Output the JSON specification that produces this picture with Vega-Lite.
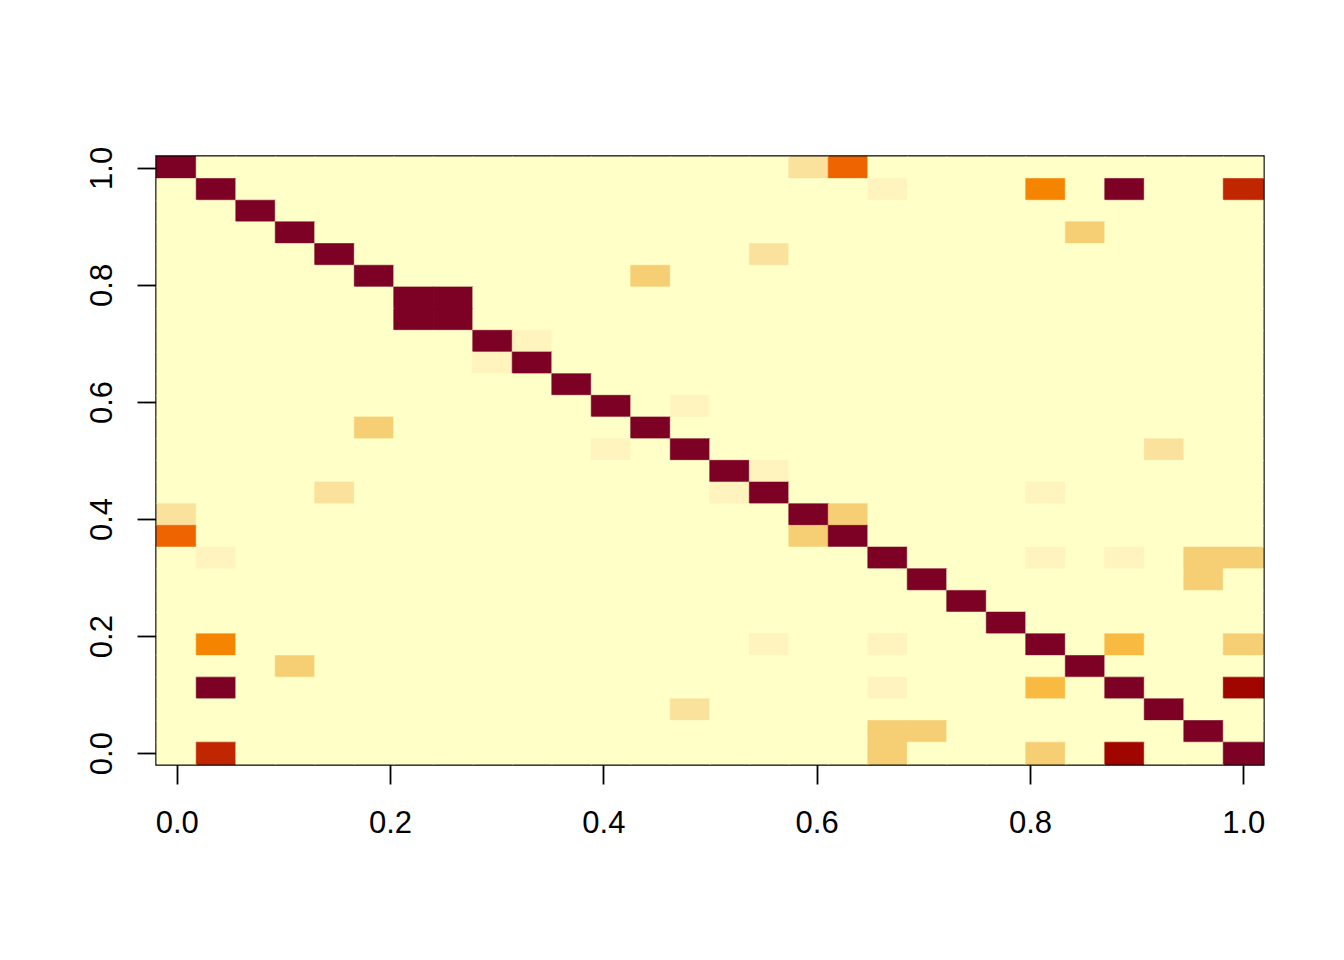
{
"$schema": "https://vega.github.io/schema/vega-lite/v6.json",
"width": 1106, "height": 607,
"autosize": "none",
"padding": {"left": 157, "top": 157, "right": 81, "bottom": 196},
"background": "white",
"config": {"view": {"stroke": "#000", "strokeWidth": 3.4}, "font": "Liberation Sans"},
"data": {"values": [
{"x":0,"y":1,"z":11},{"x":0.037,"y":1,"z":0},{"x":0.0741,"y":1,"z":0},{"x":0.1111,"y":1,"z":0},{"x":0.1481,"y":1,"z":0},{"x":0.1852,"y":1,"z":0},{"x":0.2222,"y":1,"z":0},{"x":0.2593,"y":1,"z":0},{"x":0.2963,"y":1,"z":0},{"x":0.3333,"y":1,"z":0},{"x":0.3704,"y":1,"z":0},{"x":0.4074,"y":1,"z":0},{"x":0.4444,"y":1,"z":0},{"x":0.4815,"y":1,"z":0},{"x":0.5185,"y":1,"z":0},{"x":0.5556,"y":1,"z":0},{"x":0.5926,"y":1,"z":2},{"x":0.6296,"y":1,"z":7},{"x":0.6667,"y":1,"z":0},{"x":0.7037,"y":1,"z":0},{"x":0.7407,"y":1,"z":0},{"x":0.7778,"y":1,"z":0},{"x":0.8148,"y":1,"z":0},{"x":0.8519,"y":1,"z":0},{"x":0.8889,"y":1,"z":0},{"x":0.9259,"y":1,"z":0},{"x":0.963,"y":1,"z":0},{"x":1,"y":1,"z":0},
{"x":0,"y":0.963,"z":0},{"x":0.037,"y":0.963,"z":11},{"x":0.0741,"y":0.963,"z":0},{"x":0.1111,"y":0.963,"z":0},{"x":0.1481,"y":0.963,"z":0},{"x":0.1852,"y":0.963,"z":0},{"x":0.2222,"y":0.963,"z":0},{"x":0.2593,"y":0.963,"z":0},{"x":0.2963,"y":0.963,"z":0},{"x":0.3333,"y":0.963,"z":0},{"x":0.3704,"y":0.963,"z":0},{"x":0.4074,"y":0.963,"z":0},{"x":0.4444,"y":0.963,"z":0},{"x":0.4815,"y":0.963,"z":0},{"x":0.5185,"y":0.963,"z":0},{"x":0.5556,"y":0.963,"z":0},{"x":0.5926,"y":0.963,"z":0},{"x":0.6296,"y":0.963,"z":0},{"x":0.6667,"y":0.963,"z":1},{"x":0.7037,"y":0.963,"z":0},{"x":0.7407,"y":0.963,"z":0},{"x":0.7778,"y":0.963,"z":0},{"x":0.8148,"y":0.963,"z":6},{"x":0.8519,"y":0.963,"z":0},{"x":0.8889,"y":0.963,"z":11},{"x":0.9259,"y":0.963,"z":0},{"x":0.963,"y":0.963,"z":0},{"x":1,"y":0.963,"z":9},
{"x":0,"y":0.9259,"z":0},{"x":0.037,"y":0.9259,"z":0},{"x":0.0741,"y":0.9259,"z":11},{"x":0.1111,"y":0.9259,"z":0},{"x":0.1481,"y":0.9259,"z":0},{"x":0.1852,"y":0.9259,"z":0},{"x":0.2222,"y":0.9259,"z":0},{"x":0.2593,"y":0.9259,"z":0},{"x":0.2963,"y":0.9259,"z":0},{"x":0.3333,"y":0.9259,"z":0},{"x":0.3704,"y":0.9259,"z":0},{"x":0.4074,"y":0.9259,"z":0},{"x":0.4444,"y":0.9259,"z":0},{"x":0.4815,"y":0.9259,"z":0},{"x":0.5185,"y":0.9259,"z":0},{"x":0.5556,"y":0.9259,"z":0},{"x":0.5926,"y":0.9259,"z":0},{"x":0.6296,"y":0.9259,"z":0},{"x":0.6667,"y":0.9259,"z":0},{"x":0.7037,"y":0.9259,"z":0},{"x":0.7407,"y":0.9259,"z":0},{"x":0.7778,"y":0.9259,"z":0},{"x":0.8148,"y":0.9259,"z":0},{"x":0.8519,"y":0.9259,"z":0},{"x":0.8889,"y":0.9259,"z":0},{"x":0.9259,"y":0.9259,"z":0},{"x":0.963,"y":0.9259,"z":0},{"x":1,"y":0.9259,"z":0},
{"x":0,"y":0.8889,"z":0},{"x":0.037,"y":0.8889,"z":0},{"x":0.0741,"y":0.8889,"z":0},{"x":0.1111,"y":0.8889,"z":11},{"x":0.1481,"y":0.8889,"z":0},{"x":0.1852,"y":0.8889,"z":0},{"x":0.2222,"y":0.8889,"z":0},{"x":0.2593,"y":0.8889,"z":0},{"x":0.2963,"y":0.8889,"z":0},{"x":0.3333,"y":0.8889,"z":0},{"x":0.3704,"y":0.8889,"z":0},{"x":0.4074,"y":0.8889,"z":0},{"x":0.4444,"y":0.8889,"z":0},{"x":0.4815,"y":0.8889,"z":0},{"x":0.5185,"y":0.8889,"z":0},{"x":0.5556,"y":0.8889,"z":0},{"x":0.5926,"y":0.8889,"z":0},{"x":0.6296,"y":0.8889,"z":0},{"x":0.6667,"y":0.8889,"z":0},{"x":0.7037,"y":0.8889,"z":0},{"x":0.7407,"y":0.8889,"z":0},{"x":0.7778,"y":0.8889,"z":0},{"x":0.8148,"y":0.8889,"z":0},{"x":0.8519,"y":0.8889,"z":3},{"x":0.8889,"y":0.8889,"z":0},{"x":0.9259,"y":0.8889,"z":0},{"x":0.963,"y":0.8889,"z":0},{"x":1,"y":0.8889,"z":0},
{"x":0,"y":0.8519,"z":0},{"x":0.037,"y":0.8519,"z":0},{"x":0.0741,"y":0.8519,"z":0},{"x":0.1111,"y":0.8519,"z":0},{"x":0.1481,"y":0.8519,"z":11},{"x":0.1852,"y":0.8519,"z":0},{"x":0.2222,"y":0.8519,"z":0},{"x":0.2593,"y":0.8519,"z":0},{"x":0.2963,"y":0.8519,"z":0},{"x":0.3333,"y":0.8519,"z":0},{"x":0.3704,"y":0.8519,"z":0},{"x":0.4074,"y":0.8519,"z":0},{"x":0.4444,"y":0.8519,"z":0},{"x":0.4815,"y":0.8519,"z":0},{"x":0.5185,"y":0.8519,"z":0},{"x":0.5556,"y":0.8519,"z":2},{"x":0.5926,"y":0.8519,"z":0},{"x":0.6296,"y":0.8519,"z":0},{"x":0.6667,"y":0.8519,"z":0},{"x":0.7037,"y":0.8519,"z":0},{"x":0.7407,"y":0.8519,"z":0},{"x":0.7778,"y":0.8519,"z":0},{"x":0.8148,"y":0.8519,"z":0},{"x":0.8519,"y":0.8519,"z":0},{"x":0.8889,"y":0.8519,"z":0},{"x":0.9259,"y":0.8519,"z":0},{"x":0.963,"y":0.8519,"z":0},{"x":1,"y":0.8519,"z":0},
{"x":0,"y":0.8148,"z":0},{"x":0.037,"y":0.8148,"z":0},{"x":0.0741,"y":0.8148,"z":0},{"x":0.1111,"y":0.8148,"z":0},{"x":0.1481,"y":0.8148,"z":0},{"x":0.1852,"y":0.8148,"z":11},{"x":0.2222,"y":0.8148,"z":0},{"x":0.2593,"y":0.8148,"z":0},{"x":0.2963,"y":0.8148,"z":0},{"x":0.3333,"y":0.8148,"z":0},{"x":0.3704,"y":0.8148,"z":0},{"x":0.4074,"y":0.8148,"z":0},{"x":0.4444,"y":0.8148,"z":3},{"x":0.4815,"y":0.8148,"z":0},{"x":0.5185,"y":0.8148,"z":0},{"x":0.5556,"y":0.8148,"z":0},{"x":0.5926,"y":0.8148,"z":0},{"x":0.6296,"y":0.8148,"z":0},{"x":0.6667,"y":0.8148,"z":0},{"x":0.7037,"y":0.8148,"z":0},{"x":0.7407,"y":0.8148,"z":0},{"x":0.7778,"y":0.8148,"z":0},{"x":0.8148,"y":0.8148,"z":0},{"x":0.8519,"y":0.8148,"z":0},{"x":0.8889,"y":0.8148,"z":0},{"x":0.9259,"y":0.8148,"z":0},{"x":0.963,"y":0.8148,"z":0},{"x":1,"y":0.8148,"z":0},
{"x":0,"y":0.7778,"z":0},{"x":0.037,"y":0.7778,"z":0},{"x":0.0741,"y":0.7778,"z":0},{"x":0.1111,"y":0.7778,"z":0},{"x":0.1481,"y":0.7778,"z":0},{"x":0.1852,"y":0.7778,"z":0},{"x":0.2222,"y":0.7778,"z":11},{"x":0.2593,"y":0.7778,"z":11},{"x":0.2963,"y":0.7778,"z":0},{"x":0.3333,"y":0.7778,"z":0},{"x":0.3704,"y":0.7778,"z":0},{"x":0.4074,"y":0.7778,"z":0},{"x":0.4444,"y":0.7778,"z":0},{"x":0.4815,"y":0.7778,"z":0},{"x":0.5185,"y":0.7778,"z":0},{"x":0.5556,"y":0.7778,"z":0},{"x":0.5926,"y":0.7778,"z":0},{"x":0.6296,"y":0.7778,"z":0},{"x":0.6667,"y":0.7778,"z":0},{"x":0.7037,"y":0.7778,"z":0},{"x":0.7407,"y":0.7778,"z":0},{"x":0.7778,"y":0.7778,"z":0},{"x":0.8148,"y":0.7778,"z":0},{"x":0.8519,"y":0.7778,"z":0},{"x":0.8889,"y":0.7778,"z":0},{"x":0.9259,"y":0.7778,"z":0},{"x":0.963,"y":0.7778,"z":0},{"x":1,"y":0.7778,"z":0},
{"x":0,"y":0.7407,"z":0},{"x":0.037,"y":0.7407,"z":0},{"x":0.0741,"y":0.7407,"z":0},{"x":0.1111,"y":0.7407,"z":0},{"x":0.1481,"y":0.7407,"z":0},{"x":0.1852,"y":0.7407,"z":0},{"x":0.2222,"y":0.7407,"z":11},{"x":0.2593,"y":0.7407,"z":11},{"x":0.2963,"y":0.7407,"z":0},{"x":0.3333,"y":0.7407,"z":0},{"x":0.3704,"y":0.7407,"z":0},{"x":0.4074,"y":0.7407,"z":0},{"x":0.4444,"y":0.7407,"z":0},{"x":0.4815,"y":0.7407,"z":0},{"x":0.5185,"y":0.7407,"z":0},{"x":0.5556,"y":0.7407,"z":0},{"x":0.5926,"y":0.7407,"z":0},{"x":0.6296,"y":0.7407,"z":0},{"x":0.6667,"y":0.7407,"z":0},{"x":0.7037,"y":0.7407,"z":0},{"x":0.7407,"y":0.7407,"z":0},{"x":0.7778,"y":0.7407,"z":0},{"x":0.8148,"y":0.7407,"z":0},{"x":0.8519,"y":0.7407,"z":0},{"x":0.8889,"y":0.7407,"z":0},{"x":0.9259,"y":0.7407,"z":0},{"x":0.963,"y":0.7407,"z":0},{"x":1,"y":0.7407,"z":0},
{"x":0,"y":0.7037,"z":0},{"x":0.037,"y":0.7037,"z":0},{"x":0.0741,"y":0.7037,"z":0},{"x":0.1111,"y":0.7037,"z":0},{"x":0.1481,"y":0.7037,"z":0},{"x":0.1852,"y":0.7037,"z":0},{"x":0.2222,"y":0.7037,"z":0},{"x":0.2593,"y":0.7037,"z":0},{"x":0.2963,"y":0.7037,"z":11},{"x":0.3333,"y":0.7037,"z":1},{"x":0.3704,"y":0.7037,"z":0},{"x":0.4074,"y":0.7037,"z":0},{"x":0.4444,"y":0.7037,"z":0},{"x":0.4815,"y":0.7037,"z":0},{"x":0.5185,"y":0.7037,"z":0},{"x":0.5556,"y":0.7037,"z":0},{"x":0.5926,"y":0.7037,"z":0},{"x":0.6296,"y":0.7037,"z":0},{"x":0.6667,"y":0.7037,"z":0},{"x":0.7037,"y":0.7037,"z":0},{"x":0.7407,"y":0.7037,"z":0},{"x":0.7778,"y":0.7037,"z":0},{"x":0.8148,"y":0.7037,"z":0},{"x":0.8519,"y":0.7037,"z":0},{"x":0.8889,"y":0.7037,"z":0},{"x":0.9259,"y":0.7037,"z":0},{"x":0.963,"y":0.7037,"z":0},{"x":1,"y":0.7037,"z":0},
{"x":0,"y":0.6667,"z":0},{"x":0.037,"y":0.6667,"z":0},{"x":0.0741,"y":0.6667,"z":0},{"x":0.1111,"y":0.6667,"z":0},{"x":0.1481,"y":0.6667,"z":0},{"x":0.1852,"y":0.6667,"z":0},{"x":0.2222,"y":0.6667,"z":0},{"x":0.2593,"y":0.6667,"z":0},{"x":0.2963,"y":0.6667,"z":1},{"x":0.3333,"y":0.6667,"z":11},{"x":0.3704,"y":0.6667,"z":0},{"x":0.4074,"y":0.6667,"z":0},{"x":0.4444,"y":0.6667,"z":0},{"x":0.4815,"y":0.6667,"z":0},{"x":0.5185,"y":0.6667,"z":0},{"x":0.5556,"y":0.6667,"z":0},{"x":0.5926,"y":0.6667,"z":0},{"x":0.6296,"y":0.6667,"z":0},{"x":0.6667,"y":0.6667,"z":0},{"x":0.7037,"y":0.6667,"z":0},{"x":0.7407,"y":0.6667,"z":0},{"x":0.7778,"y":0.6667,"z":0},{"x":0.8148,"y":0.6667,"z":0},{"x":0.8519,"y":0.6667,"z":0},{"x":0.8889,"y":0.6667,"z":0},{"x":0.9259,"y":0.6667,"z":0},{"x":0.963,"y":0.6667,"z":0},{"x":1,"y":0.6667,"z":0},
{"x":0,"y":0.6296,"z":0},{"x":0.037,"y":0.6296,"z":0},{"x":0.0741,"y":0.6296,"z":0},{"x":0.1111,"y":0.6296,"z":0},{"x":0.1481,"y":0.6296,"z":0},{"x":0.1852,"y":0.6296,"z":0},{"x":0.2222,"y":0.6296,"z":0},{"x":0.2593,"y":0.6296,"z":0},{"x":0.2963,"y":0.6296,"z":0},{"x":0.3333,"y":0.6296,"z":0},{"x":0.3704,"y":0.6296,"z":11},{"x":0.4074,"y":0.6296,"z":0},{"x":0.4444,"y":0.6296,"z":0},{"x":0.4815,"y":0.6296,"z":0},{"x":0.5185,"y":0.6296,"z":0},{"x":0.5556,"y":0.6296,"z":0},{"x":0.5926,"y":0.6296,"z":0},{"x":0.6296,"y":0.6296,"z":0},{"x":0.6667,"y":0.6296,"z":0},{"x":0.7037,"y":0.6296,"z":0},{"x":0.7407,"y":0.6296,"z":0},{"x":0.7778,"y":0.6296,"z":0},{"x":0.8148,"y":0.6296,"z":0},{"x":0.8519,"y":0.6296,"z":0},{"x":0.8889,"y":0.6296,"z":0},{"x":0.9259,"y":0.6296,"z":0},{"x":0.963,"y":0.6296,"z":0},{"x":1,"y":0.6296,"z":0},
{"x":0,"y":0.5926,"z":0},{"x":0.037,"y":0.5926,"z":0},{"x":0.0741,"y":0.5926,"z":0},{"x":0.1111,"y":0.5926,"z":0},{"x":0.1481,"y":0.5926,"z":0},{"x":0.1852,"y":0.5926,"z":0},{"x":0.2222,"y":0.5926,"z":0},{"x":0.2593,"y":0.5926,"z":0},{"x":0.2963,"y":0.5926,"z":0},{"x":0.3333,"y":0.5926,"z":0},{"x":0.3704,"y":0.5926,"z":0},{"x":0.4074,"y":0.5926,"z":11},{"x":0.4444,"y":0.5926,"z":0},{"x":0.4815,"y":0.5926,"z":1},{"x":0.5185,"y":0.5926,"z":0},{"x":0.5556,"y":0.5926,"z":0},{"x":0.5926,"y":0.5926,"z":0},{"x":0.6296,"y":0.5926,"z":0},{"x":0.6667,"y":0.5926,"z":0},{"x":0.7037,"y":0.5926,"z":0},{"x":0.7407,"y":0.5926,"z":0},{"x":0.7778,"y":0.5926,"z":0},{"x":0.8148,"y":0.5926,"z":0},{"x":0.8519,"y":0.5926,"z":0},{"x":0.8889,"y":0.5926,"z":0},{"x":0.9259,"y":0.5926,"z":0},{"x":0.963,"y":0.5926,"z":0},{"x":1,"y":0.5926,"z":0},
{"x":0,"y":0.5556,"z":0},{"x":0.037,"y":0.5556,"z":0},{"x":0.0741,"y":0.5556,"z":0},{"x":0.1111,"y":0.5556,"z":0},{"x":0.1481,"y":0.5556,"z":0},{"x":0.1852,"y":0.5556,"z":3},{"x":0.2222,"y":0.5556,"z":0},{"x":0.2593,"y":0.5556,"z":0},{"x":0.2963,"y":0.5556,"z":0},{"x":0.3333,"y":0.5556,"z":0},{"x":0.3704,"y":0.5556,"z":0},{"x":0.4074,"y":0.5556,"z":0},{"x":0.4444,"y":0.5556,"z":11},{"x":0.4815,"y":0.5556,"z":0},{"x":0.5185,"y":0.5556,"z":0},{"x":0.5556,"y":0.5556,"z":0},{"x":0.5926,"y":0.5556,"z":0},{"x":0.6296,"y":0.5556,"z":0},{"x":0.6667,"y":0.5556,"z":0},{"x":0.7037,"y":0.5556,"z":0},{"x":0.7407,"y":0.5556,"z":0},{"x":0.7778,"y":0.5556,"z":0},{"x":0.8148,"y":0.5556,"z":0},{"x":0.8519,"y":0.5556,"z":0},{"x":0.8889,"y":0.5556,"z":0},{"x":0.9259,"y":0.5556,"z":0},{"x":0.963,"y":0.5556,"z":0},{"x":1,"y":0.5556,"z":0},
{"x":0,"y":0.5185,"z":0},{"x":0.037,"y":0.5185,"z":0},{"x":0.0741,"y":0.5185,"z":0},{"x":0.1111,"y":0.5185,"z":0},{"x":0.1481,"y":0.5185,"z":0},{"x":0.1852,"y":0.5185,"z":0},{"x":0.2222,"y":0.5185,"z":0},{"x":0.2593,"y":0.5185,"z":0},{"x":0.2963,"y":0.5185,"z":0},{"x":0.3333,"y":0.5185,"z":0},{"x":0.3704,"y":0.5185,"z":0},{"x":0.4074,"y":0.5185,"z":1},{"x":0.4444,"y":0.5185,"z":0},{"x":0.4815,"y":0.5185,"z":11},{"x":0.5185,"y":0.5185,"z":0},{"x":0.5556,"y":0.5185,"z":0},{"x":0.5926,"y":0.5185,"z":0},{"x":0.6296,"y":0.5185,"z":0},{"x":0.6667,"y":0.5185,"z":0},{"x":0.7037,"y":0.5185,"z":0},{"x":0.7407,"y":0.5185,"z":0},{"x":0.7778,"y":0.5185,"z":0},{"x":0.8148,"y":0.5185,"z":0},{"x":0.8519,"y":0.5185,"z":0},{"x":0.8889,"y":0.5185,"z":0},{"x":0.9259,"y":0.5185,"z":2},{"x":0.963,"y":0.5185,"z":0},{"x":1,"y":0.5185,"z":0},
{"x":0,"y":0.4815,"z":0},{"x":0.037,"y":0.4815,"z":0},{"x":0.0741,"y":0.4815,"z":0},{"x":0.1111,"y":0.4815,"z":0},{"x":0.1481,"y":0.4815,"z":0},{"x":0.1852,"y":0.4815,"z":0},{"x":0.2222,"y":0.4815,"z":0},{"x":0.2593,"y":0.4815,"z":0},{"x":0.2963,"y":0.4815,"z":0},{"x":0.3333,"y":0.4815,"z":0},{"x":0.3704,"y":0.4815,"z":0},{"x":0.4074,"y":0.4815,"z":0},{"x":0.4444,"y":0.4815,"z":0},{"x":0.4815,"y":0.4815,"z":0},{"x":0.5185,"y":0.4815,"z":11},{"x":0.5556,"y":0.4815,"z":1},{"x":0.5926,"y":0.4815,"z":0},{"x":0.6296,"y":0.4815,"z":0},{"x":0.6667,"y":0.4815,"z":0},{"x":0.7037,"y":0.4815,"z":0},{"x":0.7407,"y":0.4815,"z":0},{"x":0.7778,"y":0.4815,"z":0},{"x":0.8148,"y":0.4815,"z":0},{"x":0.8519,"y":0.4815,"z":0},{"x":0.8889,"y":0.4815,"z":0},{"x":0.9259,"y":0.4815,"z":0},{"x":0.963,"y":0.4815,"z":0},{"x":1,"y":0.4815,"z":0},
{"x":0,"y":0.4444,"z":0},{"x":0.037,"y":0.4444,"z":0},{"x":0.0741,"y":0.4444,"z":0},{"x":0.1111,"y":0.4444,"z":0},{"x":0.1481,"y":0.4444,"z":2},{"x":0.1852,"y":0.4444,"z":0},{"x":0.2222,"y":0.4444,"z":0},{"x":0.2593,"y":0.4444,"z":0},{"x":0.2963,"y":0.4444,"z":0},{"x":0.3333,"y":0.4444,"z":0},{"x":0.3704,"y":0.4444,"z":0},{"x":0.4074,"y":0.4444,"z":0},{"x":0.4444,"y":0.4444,"z":0},{"x":0.4815,"y":0.4444,"z":0},{"x":0.5185,"y":0.4444,"z":1},{"x":0.5556,"y":0.4444,"z":11},{"x":0.5926,"y":0.4444,"z":0},{"x":0.6296,"y":0.4444,"z":0},{"x":0.6667,"y":0.4444,"z":0},{"x":0.7037,"y":0.4444,"z":0},{"x":0.7407,"y":0.4444,"z":0},{"x":0.7778,"y":0.4444,"z":0},{"x":0.8148,"y":0.4444,"z":1},{"x":0.8519,"y":0.4444,"z":0},{"x":0.8889,"y":0.4444,"z":0},{"x":0.9259,"y":0.4444,"z":0},{"x":0.963,"y":0.4444,"z":0},{"x":1,"y":0.4444,"z":0},
{"x":0,"y":0.4074,"z":2},{"x":0.037,"y":0.4074,"z":0},{"x":0.0741,"y":0.4074,"z":0},{"x":0.1111,"y":0.4074,"z":0},{"x":0.1481,"y":0.4074,"z":0},{"x":0.1852,"y":0.4074,"z":0},{"x":0.2222,"y":0.4074,"z":0},{"x":0.2593,"y":0.4074,"z":0},{"x":0.2963,"y":0.4074,"z":0},{"x":0.3333,"y":0.4074,"z":0},{"x":0.3704,"y":0.4074,"z":0},{"x":0.4074,"y":0.4074,"z":0},{"x":0.4444,"y":0.4074,"z":0},{"x":0.4815,"y":0.4074,"z":0},{"x":0.5185,"y":0.4074,"z":0},{"x":0.5556,"y":0.4074,"z":0},{"x":0.5926,"y":0.4074,"z":11},{"x":0.6296,"y":0.4074,"z":3},{"x":0.6667,"y":0.4074,"z":0},{"x":0.7037,"y":0.4074,"z":0},{"x":0.7407,"y":0.4074,"z":0},{"x":0.7778,"y":0.4074,"z":0},{"x":0.8148,"y":0.4074,"z":0},{"x":0.8519,"y":0.4074,"z":0},{"x":0.8889,"y":0.4074,"z":0},{"x":0.9259,"y":0.4074,"z":0},{"x":0.963,"y":0.4074,"z":0},{"x":1,"y":0.4074,"z":0},
{"x":0,"y":0.3704,"z":7},{"x":0.037,"y":0.3704,"z":0},{"x":0.0741,"y":0.3704,"z":0},{"x":0.1111,"y":0.3704,"z":0},{"x":0.1481,"y":0.3704,"z":0},{"x":0.1852,"y":0.3704,"z":0},{"x":0.2222,"y":0.3704,"z":0},{"x":0.2593,"y":0.3704,"z":0},{"x":0.2963,"y":0.3704,"z":0},{"x":0.3333,"y":0.3704,"z":0},{"x":0.3704,"y":0.3704,"z":0},{"x":0.4074,"y":0.3704,"z":0},{"x":0.4444,"y":0.3704,"z":0},{"x":0.4815,"y":0.3704,"z":0},{"x":0.5185,"y":0.3704,"z":0},{"x":0.5556,"y":0.3704,"z":0},{"x":0.5926,"y":0.3704,"z":3},{"x":0.6296,"y":0.3704,"z":11},{"x":0.6667,"y":0.3704,"z":0},{"x":0.7037,"y":0.3704,"z":0},{"x":0.7407,"y":0.3704,"z":0},{"x":0.7778,"y":0.3704,"z":0},{"x":0.8148,"y":0.3704,"z":0},{"x":0.8519,"y":0.3704,"z":0},{"x":0.8889,"y":0.3704,"z":0},{"x":0.9259,"y":0.3704,"z":0},{"x":0.963,"y":0.3704,"z":0},{"x":1,"y":0.3704,"z":0},
{"x":0,"y":0.3333,"z":0},{"x":0.037,"y":0.3333,"z":1},{"x":0.0741,"y":0.3333,"z":0},{"x":0.1111,"y":0.3333,"z":0},{"x":0.1481,"y":0.3333,"z":0},{"x":0.1852,"y":0.3333,"z":0},{"x":0.2222,"y":0.3333,"z":0},{"x":0.2593,"y":0.3333,"z":0},{"x":0.2963,"y":0.3333,"z":0},{"x":0.3333,"y":0.3333,"z":0},{"x":0.3704,"y":0.3333,"z":0},{"x":0.4074,"y":0.3333,"z":0},{"x":0.4444,"y":0.3333,"z":0},{"x":0.4815,"y":0.3333,"z":0},{"x":0.5185,"y":0.3333,"z":0},{"x":0.5556,"y":0.3333,"z":0},{"x":0.5926,"y":0.3333,"z":0},{"x":0.6296,"y":0.3333,"z":0},{"x":0.6667,"y":0.3333,"z":11},{"x":0.7037,"y":0.3333,"z":0},{"x":0.7407,"y":0.3333,"z":0},{"x":0.7778,"y":0.3333,"z":0},{"x":0.8148,"y":0.3333,"z":1},{"x":0.8519,"y":0.3333,"z":0},{"x":0.8889,"y":0.3333,"z":1},{"x":0.9259,"y":0.3333,"z":0},{"x":0.963,"y":0.3333,"z":3},{"x":1,"y":0.3333,"z":3},
{"x":0,"y":0.2963,"z":0},{"x":0.037,"y":0.2963,"z":0},{"x":0.0741,"y":0.2963,"z":0},{"x":0.1111,"y":0.2963,"z":0},{"x":0.1481,"y":0.2963,"z":0},{"x":0.1852,"y":0.2963,"z":0},{"x":0.2222,"y":0.2963,"z":0},{"x":0.2593,"y":0.2963,"z":0},{"x":0.2963,"y":0.2963,"z":0},{"x":0.3333,"y":0.2963,"z":0},{"x":0.3704,"y":0.2963,"z":0},{"x":0.4074,"y":0.2963,"z":0},{"x":0.4444,"y":0.2963,"z":0},{"x":0.4815,"y":0.2963,"z":0},{"x":0.5185,"y":0.2963,"z":0},{"x":0.5556,"y":0.2963,"z":0},{"x":0.5926,"y":0.2963,"z":0},{"x":0.6296,"y":0.2963,"z":0},{"x":0.6667,"y":0.2963,"z":0},{"x":0.7037,"y":0.2963,"z":11},{"x":0.7407,"y":0.2963,"z":0},{"x":0.7778,"y":0.2963,"z":0},{"x":0.8148,"y":0.2963,"z":0},{"x":0.8519,"y":0.2963,"z":0},{"x":0.8889,"y":0.2963,"z":0},{"x":0.9259,"y":0.2963,"z":0},{"x":0.963,"y":0.2963,"z":3},{"x":1,"y":0.2963,"z":0},
{"x":0,"y":0.2593,"z":0},{"x":0.037,"y":0.2593,"z":0},{"x":0.0741,"y":0.2593,"z":0},{"x":0.1111,"y":0.2593,"z":0},{"x":0.1481,"y":0.2593,"z":0},{"x":0.1852,"y":0.2593,"z":0},{"x":0.2222,"y":0.2593,"z":0},{"x":0.2593,"y":0.2593,"z":0},{"x":0.2963,"y":0.2593,"z":0},{"x":0.3333,"y":0.2593,"z":0},{"x":0.3704,"y":0.2593,"z":0},{"x":0.4074,"y":0.2593,"z":0},{"x":0.4444,"y":0.2593,"z":0},{"x":0.4815,"y":0.2593,"z":0},{"x":0.5185,"y":0.2593,"z":0},{"x":0.5556,"y":0.2593,"z":0},{"x":0.5926,"y":0.2593,"z":0},{"x":0.6296,"y":0.2593,"z":0},{"x":0.6667,"y":0.2593,"z":0},{"x":0.7037,"y":0.2593,"z":0},{"x":0.7407,"y":0.2593,"z":11},{"x":0.7778,"y":0.2593,"z":0},{"x":0.8148,"y":0.2593,"z":0},{"x":0.8519,"y":0.2593,"z":0},{"x":0.8889,"y":0.2593,"z":0},{"x":0.9259,"y":0.2593,"z":0},{"x":0.963,"y":0.2593,"z":0},{"x":1,"y":0.2593,"z":0},
{"x":0,"y":0.2222,"z":0},{"x":0.037,"y":0.2222,"z":0},{"x":0.0741,"y":0.2222,"z":0},{"x":0.1111,"y":0.2222,"z":0},{"x":0.1481,"y":0.2222,"z":0},{"x":0.1852,"y":0.2222,"z":0},{"x":0.2222,"y":0.2222,"z":0},{"x":0.2593,"y":0.2222,"z":0},{"x":0.2963,"y":0.2222,"z":0},{"x":0.3333,"y":0.2222,"z":0},{"x":0.3704,"y":0.2222,"z":0},{"x":0.4074,"y":0.2222,"z":0},{"x":0.4444,"y":0.2222,"z":0},{"x":0.4815,"y":0.2222,"z":0},{"x":0.5185,"y":0.2222,"z":0},{"x":0.5556,"y":0.2222,"z":0},{"x":0.5926,"y":0.2222,"z":0},{"x":0.6296,"y":0.2222,"z":0},{"x":0.6667,"y":0.2222,"z":0},{"x":0.7037,"y":0.2222,"z":0},{"x":0.7407,"y":0.2222,"z":0},{"x":0.7778,"y":0.2222,"z":11},{"x":0.8148,"y":0.2222,"z":0},{"x":0.8519,"y":0.2222,"z":0},{"x":0.8889,"y":0.2222,"z":0},{"x":0.9259,"y":0.2222,"z":0},{"x":0.963,"y":0.2222,"z":0},{"x":1,"y":0.2222,"z":0},
{"x":0,"y":0.1852,"z":0},{"x":0.037,"y":0.1852,"z":6},{"x":0.0741,"y":0.1852,"z":0},{"x":0.1111,"y":0.1852,"z":0},{"x":0.1481,"y":0.1852,"z":0},{"x":0.1852,"y":0.1852,"z":0},{"x":0.2222,"y":0.1852,"z":0},{"x":0.2593,"y":0.1852,"z":0},{"x":0.2963,"y":0.1852,"z":0},{"x":0.3333,"y":0.1852,"z":0},{"x":0.3704,"y":0.1852,"z":0},{"x":0.4074,"y":0.1852,"z":0},{"x":0.4444,"y":0.1852,"z":0},{"x":0.4815,"y":0.1852,"z":0},{"x":0.5185,"y":0.1852,"z":0},{"x":0.5556,"y":0.1852,"z":1},{"x":0.5926,"y":0.1852,"z":0},{"x":0.6296,"y":0.1852,"z":0},{"x":0.6667,"y":0.1852,"z":1},{"x":0.7037,"y":0.1852,"z":0},{"x":0.7407,"y":0.1852,"z":0},{"x":0.7778,"y":0.1852,"z":0},{"x":0.8148,"y":0.1852,"z":11},{"x":0.8519,"y":0.1852,"z":0},{"x":0.8889,"y":0.1852,"z":4},{"x":0.9259,"y":0.1852,"z":0},{"x":0.963,"y":0.1852,"z":0},{"x":1,"y":0.1852,"z":3},
{"x":0,"y":0.1481,"z":0},{"x":0.037,"y":0.1481,"z":0},{"x":0.0741,"y":0.1481,"z":0},{"x":0.1111,"y":0.1481,"z":3},{"x":0.1481,"y":0.1481,"z":0},{"x":0.1852,"y":0.1481,"z":0},{"x":0.2222,"y":0.1481,"z":0},{"x":0.2593,"y":0.1481,"z":0},{"x":0.2963,"y":0.1481,"z":0},{"x":0.3333,"y":0.1481,"z":0},{"x":0.3704,"y":0.1481,"z":0},{"x":0.4074,"y":0.1481,"z":0},{"x":0.4444,"y":0.1481,"z":0},{"x":0.4815,"y":0.1481,"z":0},{"x":0.5185,"y":0.1481,"z":0},{"x":0.5556,"y":0.1481,"z":0},{"x":0.5926,"y":0.1481,"z":0},{"x":0.6296,"y":0.1481,"z":0},{"x":0.6667,"y":0.1481,"z":0},{"x":0.7037,"y":0.1481,"z":0},{"x":0.7407,"y":0.1481,"z":0},{"x":0.7778,"y":0.1481,"z":0},{"x":0.8148,"y":0.1481,"z":0},{"x":0.8519,"y":0.1481,"z":11},{"x":0.8889,"y":0.1481,"z":0},{"x":0.9259,"y":0.1481,"z":0},{"x":0.963,"y":0.1481,"z":0},{"x":1,"y":0.1481,"z":0},
{"x":0,"y":0.1111,"z":0},{"x":0.037,"y":0.1111,"z":11},{"x":0.0741,"y":0.1111,"z":0},{"x":0.1111,"y":0.1111,"z":0},{"x":0.1481,"y":0.1111,"z":0},{"x":0.1852,"y":0.1111,"z":0},{"x":0.2222,"y":0.1111,"z":0},{"x":0.2593,"y":0.1111,"z":0},{"x":0.2963,"y":0.1111,"z":0},{"x":0.3333,"y":0.1111,"z":0},{"x":0.3704,"y":0.1111,"z":0},{"x":0.4074,"y":0.1111,"z":0},{"x":0.4444,"y":0.1111,"z":0},{"x":0.4815,"y":0.1111,"z":0},{"x":0.5185,"y":0.1111,"z":0},{"x":0.5556,"y":0.1111,"z":0},{"x":0.5926,"y":0.1111,"z":0},{"x":0.6296,"y":0.1111,"z":0},{"x":0.6667,"y":0.1111,"z":1},{"x":0.7037,"y":0.1111,"z":0},{"x":0.7407,"y":0.1111,"z":0},{"x":0.7778,"y":0.1111,"z":0},{"x":0.8148,"y":0.1111,"z":4},{"x":0.8519,"y":0.1111,"z":0},{"x":0.8889,"y":0.1111,"z":11},{"x":0.9259,"y":0.1111,"z":0},{"x":0.963,"y":0.1111,"z":0},{"x":1,"y":0.1111,"z":10},
{"x":0,"y":0.0741,"z":0},{"x":0.037,"y":0.0741,"z":0},{"x":0.0741,"y":0.0741,"z":0},{"x":0.1111,"y":0.0741,"z":0},{"x":0.1481,"y":0.0741,"z":0},{"x":0.1852,"y":0.0741,"z":0},{"x":0.2222,"y":0.0741,"z":0},{"x":0.2593,"y":0.0741,"z":0},{"x":0.2963,"y":0.0741,"z":0},{"x":0.3333,"y":0.0741,"z":0},{"x":0.3704,"y":0.0741,"z":0},{"x":0.4074,"y":0.0741,"z":0},{"x":0.4444,"y":0.0741,"z":0},{"x":0.4815,"y":0.0741,"z":2},{"x":0.5185,"y":0.0741,"z":0},{"x":0.5556,"y":0.0741,"z":0},{"x":0.5926,"y":0.0741,"z":0},{"x":0.6296,"y":0.0741,"z":0},{"x":0.6667,"y":0.0741,"z":0},{"x":0.7037,"y":0.0741,"z":0},{"x":0.7407,"y":0.0741,"z":0},{"x":0.7778,"y":0.0741,"z":0},{"x":0.8148,"y":0.0741,"z":0},{"x":0.8519,"y":0.0741,"z":0},{"x":0.8889,"y":0.0741,"z":0},{"x":0.9259,"y":0.0741,"z":11},{"x":0.963,"y":0.0741,"z":0},{"x":1,"y":0.0741,"z":0},
{"x":0,"y":0.037,"z":0},{"x":0.037,"y":0.037,"z":0},{"x":0.0741,"y":0.037,"z":0},{"x":0.1111,"y":0.037,"z":0},{"x":0.1481,"y":0.037,"z":0},{"x":0.1852,"y":0.037,"z":0},{"x":0.2222,"y":0.037,"z":0},{"x":0.2593,"y":0.037,"z":0},{"x":0.2963,"y":0.037,"z":0},{"x":0.3333,"y":0.037,"z":0},{"x":0.3704,"y":0.037,"z":0},{"x":0.4074,"y":0.037,"z":0},{"x":0.4444,"y":0.037,"z":0},{"x":0.4815,"y":0.037,"z":0},{"x":0.5185,"y":0.037,"z":0},{"x":0.5556,"y":0.037,"z":0},{"x":0.5926,"y":0.037,"z":0},{"x":0.6296,"y":0.037,"z":0},{"x":0.6667,"y":0.037,"z":3},{"x":0.7037,"y":0.037,"z":3},{"x":0.7407,"y":0.037,"z":0},{"x":0.7778,"y":0.037,"z":0},{"x":0.8148,"y":0.037,"z":0},{"x":0.8519,"y":0.037,"z":0},{"x":0.8889,"y":0.037,"z":0},{"x":0.9259,"y":0.037,"z":0},{"x":0.963,"y":0.037,"z":11},{"x":1,"y":0.037,"z":0},
{"x":0,"y":0,"z":0},{"x":0.037,"y":0,"z":9},{"x":0.0741,"y":0,"z":0},{"x":0.1111,"y":0,"z":0},{"x":0.1481,"y":0,"z":0},{"x":0.1852,"y":0,"z":0},{"x":0.2222,"y":0,"z":0},{"x":0.2593,"y":0,"z":0},{"x":0.2963,"y":0,"z":0},{"x":0.3333,"y":0,"z":0},{"x":0.3704,"y":0,"z":0},{"x":0.4074,"y":0,"z":0},{"x":0.4444,"y":0,"z":0},{"x":0.4815,"y":0,"z":0},{"x":0.5185,"y":0,"z":0},{"x":0.5556,"y":0,"z":0},{"x":0.5926,"y":0,"z":0},{"x":0.6296,"y":0,"z":0},{"x":0.6667,"y":0,"z":3},{"x":0.7037,"y":0,"z":0},{"x":0.7407,"y":0,"z":0},{"x":0.7778,"y":0,"z":0},{"x":0.8148,"y":0,"z":3},{"x":0.8519,"y":0,"z":0},{"x":0.8889,"y":0,"z":10},{"x":0.9259,"y":0,"z":0},{"x":0.963,"y":0,"z":0},{"x":1,"y":0,"z":11}
]},
"mark": {"type": "rect", "width": 40, "height": 22, "strokeWidth": 0.6},
"encoding": {
  "x": {"field": "x", "type": "quantitative",
        "scale": {"domain": [-0.0185185, 1.0185185], "nice": false, "zero": false},
        "axis": {"values": [0, 0.2, 0.4, 0.6, 0.8, 1], "format": ".1f", "title": null, "grid": false,
                 "domain": false, "tickSize": 20, "tickWidth": 1.8, "tickColor": "#000",
                 "labelFont": "Liberation Sans", "labelFontSize": 31, "labelColor": "#000", "labelPadding": 24}},
  "y": {"field": "y", "type": "quantitative",
        "scale": {"domain": [-0.0185185, 1.0185185], "nice": false, "zero": false},
        "axis": {"values": [0, 0.2, 0.4, 0.6, 0.8, 1], "format": ".1f", "title": null, "grid": false,
                 "domain": false, "tickSize": 20, "tickWidth": 1.8, "tickColor": "#000",
                 "labelFont": "Liberation Sans", "labelFontSize": 31, "labelColor": "#000",
                 "labelAngle": 270, "labelAlign": "center", "labelBaseline": "bottom", "labelPadding": 19}},
  "color": {"field": "z", "type": "ordinal",
            "scale": {"domain": [0,1,2,3,4,5,6,7,8,9,10,11],
                      "range": ["#FFFFC8","#FFF3BE","#FAE19C","#F6CF75","#F8BA40","#F6A01E","#F58500","#EE6400","#DA4500","#C02600","#A00500","#7D0025"]},
            "legend": null},
  "stroke": {"field": "z", "type": "ordinal",
            "scale": {"domain": [0,1,2,3,4,5,6,7,8,9,10,11],
                      "range": ["#FFFFC8","#FFF3BE","#FAE19C","#F6CF75","#F8BA40","#F6A01E","#F58500","#EE6400","#DA4500","#C02600","#A00500","#7D0025"]},
            "legend": null}
}
}
